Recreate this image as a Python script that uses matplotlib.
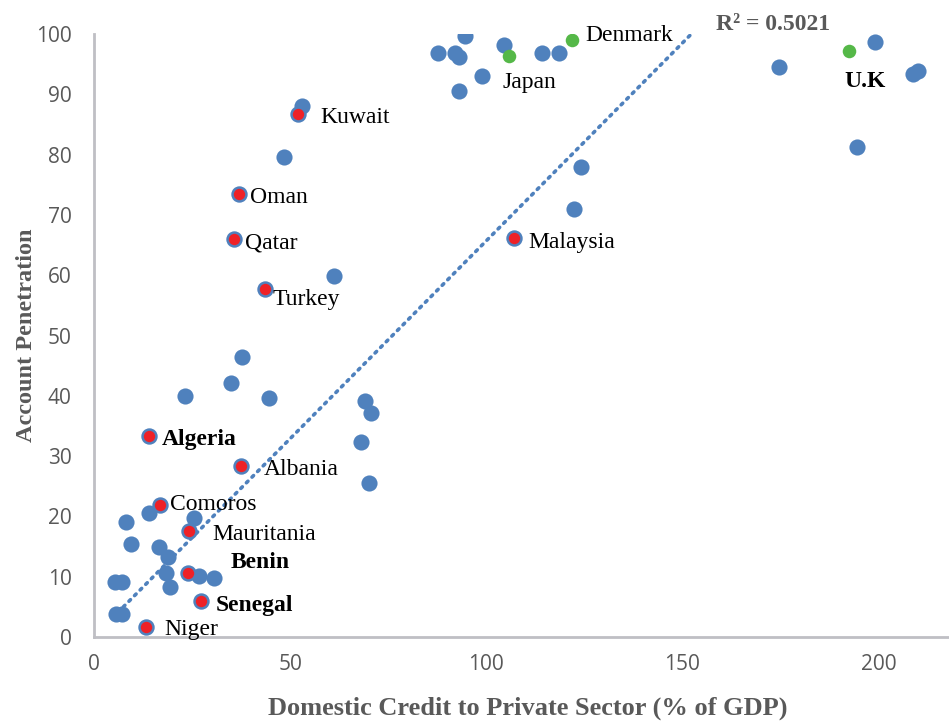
import matplotlib.pyplot as plt

# domestic credit (% of GDP) vs account penetration, unlabelled countries
other_credit = [87.6, 92.0, 93.0, 94.5, 104.5, 114.3, 118.5, 99.0, 93.1,
                174.6, 199.2, 208.7, 210.1, 194.6,
                53.0, 48.5, 61.1, 124.2, 122.5,
                37.7, 34.9, 23.2, 44.6, 69.1, 70.7, 68.0, 70.1,
                14.0, 8.2, 25.6, 9.4, 16.6, 19.0, 18.3, 26.8, 30.6, 19.4,
                5.3, 7.1, 5.6, 7.1]
other_access = [96.9, 96.9, 96.2, 99.7, 98.2, 96.9, 96.9, 93.0, 90.5,
                94.6, 98.7, 93.4, 93.9, 81.3,
                88.1, 79.6, 59.8, 78.0, 71.0,
                46.4, 42.1, 40.0, 39.6, 39.1, 37.1, 32.3, 25.6,
                20.5, 19.0, 19.8, 15.5, 15.0, 13.3, 10.6, 10.2, 9.8, 8.3,
                9.2, 9.2, 3.8, 3.8]

# highlighted countries (red) and benchmark countries (green)
red_names = ['Kuwait', 'Oman', 'Qatar', 'Turkey', 'Malaysia', 'Algeria', 'Albania',
             'Comoros', 'Mauritania', 'Benin', 'Senegal', 'Niger']
red_credit = [51.9, 37.0, 35.7, 43.5, 107.0, 14.0, 37.5, 16.8, 24.2, 23.9, 27.3, 13.2]
red_access = [86.7, 73.5, 66.0, 57.7, 66.2, 33.3, 28.4, 21.9, 17.6, 10.6, 5.9, 1.7]

green_names = ['Denmark', 'Japan', 'U.K']
green_credit = [122.0, 105.8, 192.6]
green_access = [99.0, 96.4, 97.2]

# linear trend line end points
trend_x = [7.5, 152.0]
trend_y = [5.0, 99.8]
r_squared = 0.5021

bold_names = {'Algeria', 'Benin', 'Senegal', 'U.K'}
# label offsets from the marker, pixels
label_off = {
    'Kuwait': (23, -3), 'Oman': (11, -4), 'Qatar': (11, -4), 'Turkey': (8, -10),
    'Malaysia': (15, -5), 'Algeria': (13, -3), 'Albania': (23, -4),
    'Comoros': (10, 0), 'Mauritania': (23, -4), 'Benin': (43, 11),
    'Senegal': (15, -4), 'Niger': (19, -3),
    'Denmark': (13, 5), 'Japan': (-6, -27), 'U.K': (-5, -31),
}

blue = '#4F81BD'
red = '#EE2127'
green = '#55B848'
grey = '#595959'
serif = 'Liberation Serif'

fig = plt.figure(figsize=(9.49, 7.22), dpi=100)
ax = fig.add_axes([0.099, 0.1177, 0.901, 0.8352])

ax.plot(trend_x, trend_y, color=blue, lw=2.6, linestyle=(0, (0.6, 1.6)),
        dash_capstyle='round', zorder=1)
ax.scatter(other_credit, other_access, s=135, color=blue, linewidths=0, zorder=2)
ax.scatter(red_credit, red_access, s=100, facecolor=red, edgecolor=blue,
           linewidths=1.8, zorder=3)
ax.scatter(green_credit, green_access, s=95, color=green, linewidths=0, zorder=3)

names = red_names + green_names
xs = red_credit + green_credit
ys = red_access + green_access
for name, x, y in zip(names, xs, ys):
    dx, dy = label_off[name]
    ax.annotate(name, (x, y), xytext=(dx, dy), textcoords='offset pixels',
                ha='left', va='center', fontsize=17, family=serif,
                fontweight='bold' if name in bold_names else 'normal',
                color='black', zorder=4)

ax.text(158.5, 101.6, f'R² = {r_squared:.4f}', fontsize=17, family=serif,
        fontweight='bold', color=grey, ha='left', va='center', clip_on=False)

ax.set_xlim(0, 218)
ax.set_ylim(0, 100)
ax.set_xticks([0, 50, 100, 150, 200])
ax.set_yticks(range(0, 101, 10))

for side in ['top', 'right']:
    ax.spines[side].set_visible(False)
for side in ['left', 'bottom']:
    ax.spines[side].set_color('#BFBFC4')
    ax.spines[side].set_linewidth(2)

ax.tick_params(axis='both', length=0, labelsize=15, labelcolor=grey)
ax.tick_params(axis='y', pad=16)
ax.tick_params(axis='x', pad=12)
for lbl in ax.get_xticklabels() + ax.get_yticklabels():
    lbl.set_family('Open Sans')

ax.set_xlabel('Domestic Credit to Private Sector (% of GDP)', fontsize=19,
              family=serif, fontweight='bold', color=grey)
ax.set_ylabel('Account Penetration', fontsize=17.5, family=serif,
              fontweight='bold', color=grey)
ax.xaxis.set_label_coords(0.5075, -0.098)
ax.yaxis.set_label_coords(-0.0665, 0.5)

fig.savefig('out.png', dpi=100)
